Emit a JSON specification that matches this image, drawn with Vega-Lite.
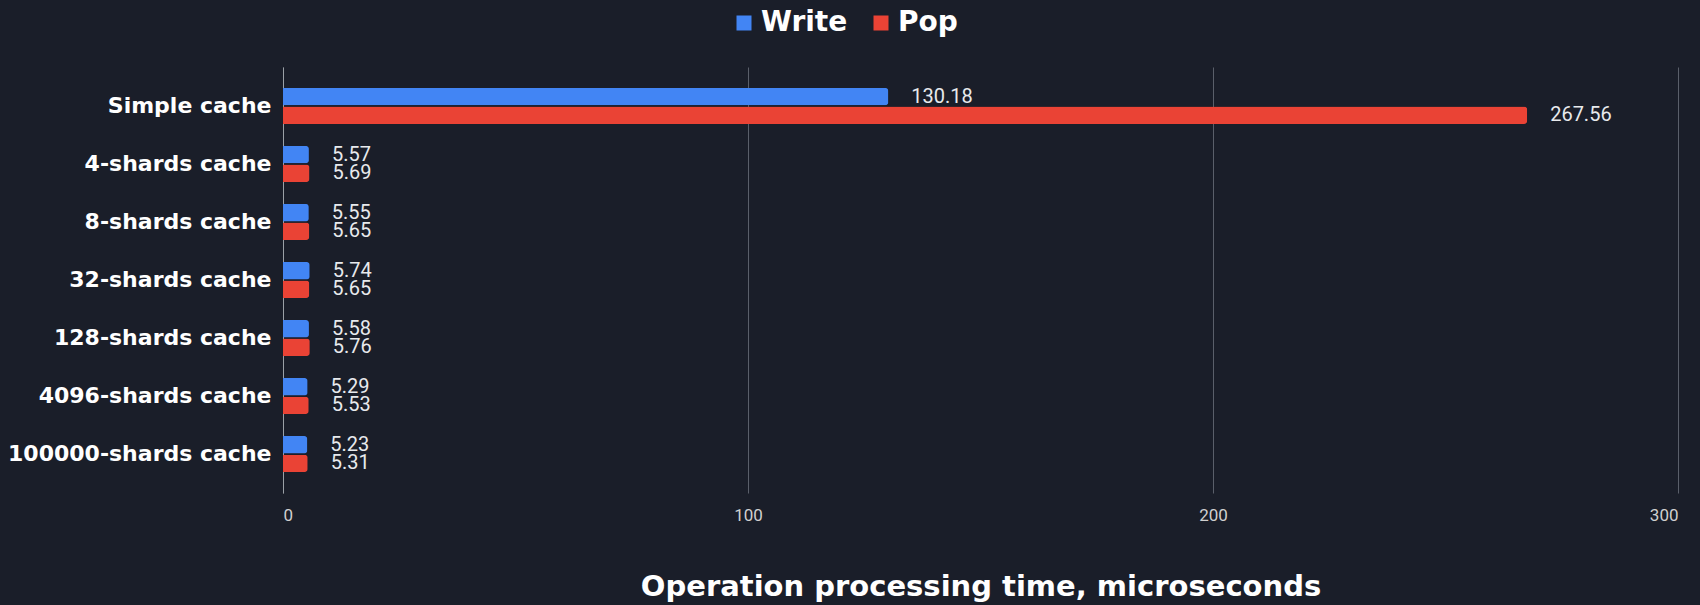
{
  "$schema": "https://vega.github.io/schema/vega-lite/v6.json",
  "width": 1395,
  "height": 426,
  "autosize": {"type": "none"},
  "padding": {"left": 283, "top": 67, "right": 22, "bottom": 112},
  "background": "#1a1e29",
  "data": {
    "values": [
      {"cache": "Simple cache", "op": "Write", "time": 130.18},
      {"cache": "Simple cache", "op": "Pop", "time": 267.56},
      {"cache": "4-shards cache", "op": "Write", "time": 5.57},
      {"cache": "4-shards cache", "op": "Pop", "time": 5.69},
      {"cache": "8-shards cache", "op": "Write", "time": 5.55},
      {"cache": "8-shards cache", "op": "Pop", "time": 5.65},
      {"cache": "32-shards cache", "op": "Write", "time": 5.74},
      {"cache": "32-shards cache", "op": "Pop", "time": 5.65},
      {"cache": "128-shards cache", "op": "Write", "time": 5.58},
      {"cache": "128-shards cache", "op": "Pop", "time": 5.76},
      {"cache": "4096-shards cache", "op": "Write", "time": 5.29},
      {"cache": "4096-shards cache", "op": "Pop", "time": 5.53},
      {"cache": "100000-shards cache", "op": "Write", "time": 5.23},
      {"cache": "100000-shards cache", "op": "Pop", "time": 5.31}
    ]
  },
  "encoding": {
    "y": {
      "field": "cache",
      "type": "nominal",
      "sort": ["Simple cache", "4-shards cache", "8-shards cache", "32-shards cache", "128-shards cache", "4096-shards cache", "100000-shards cache"],
      "scale": {"paddingInner": 0.38, "paddingOuter": 0.36},
      "axis": {
        "title": null,
        "ticks": false,
        "domain": true,
        "domainColor": "#9aa0a6",
        "domainWidth": 1,
        "labelColor": "#ffffff",
        "labelFont": "DejaVu Sans",
        "labelFontWeight": "bold",
        "labelFontSize": 22,
        "labelLimit": 0,
        "labelPadding": 12
      }
    },
    "yOffset": {
      "field": "op",
      "type": "nominal",
      "sort": ["Write", "Pop"],
      "scale": {"paddingInner": 0.06}
    },
    "x": {
      "field": "time",
      "type": "quantitative",
      "scale": {"domain": [0, 300], "nice": false},
      "axis": {
        "values": [0, 100, 200, 300],
        "title": "Operation processing time, microseconds",
        "titleColor": "#ffffff",
        "titleFont": "DejaVu Sans",
        "titleFontWeight": "bold",
        "titleFontSize": 29,
        "titlePadding": 49,
        "labelColor": "#d0d0d0",
        "labelFont": "Roboto",
        "labelFontSize": 17,
        "labelPadding": 14,
        "ticks": false,
        "domain": false,
        "grid": true,
        "gridColor": "#5a5f6a",
        "gridWidth": 1
      }
    }
  },
  "layer": [
    {
      "mark": {"type": "bar", "cornerRadiusEnd": 3},
      "encoding": {
        "color": {
          "field": "op",
          "type": "nominal",
          "sort": ["Write", "Pop"],
          "scale": {"domain": ["Write", "Pop"], "range": ["#4285f4", "#ea4335"]},
          "legend": {
            "title": null,
            "orient": "none",
            "direction": "horizontal",
            "legendX": 447,
            "legendY": -58,
            "symbolType": "square",
            "symbolSize": 225,
            "symbolStrokeWidth": 0,
            "labelColor": "#ffffff",
            "labelFont": "DejaVu Sans",
            "labelFontWeight": "bold",
            "labelFontSize": 28,
            "labelOffset": 3,
            "columnPadding": 19
          }
        }
      }
    },
    {
      "mark": {
        "type": "text",
        "align": "left",
        "baseline": "middle",
        "dx": 23,
        "font": "Roboto",
        "fontSize": 20,
        "color": "#e8eaed"
      },
      "encoding": {
        "text": {"field": "time", "type": "quantitative", "format": ".2f"}
      }
    }
  ],
  "config": {
    "view": {"stroke": null}
  }
}
